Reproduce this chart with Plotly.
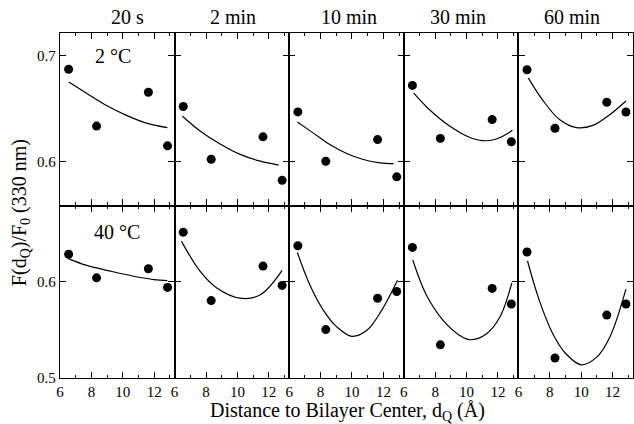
import plotly.graph_objects as go
from plotly.subplots import make_subplots

# Incubation times (columns) and temperatures (rows)
times = ["20 s", "2 min", "10 min", "30 min", "60 min"]
temps = ["2 °C", "40 °C"]

# Quencher depth, distance to bilayer center (Å)
d_q = [6.55, 8.33, 11.63, 12.85]

# Relative fluorescence F(dQ)/F0 at 330 nm, one list per time
f_2C = [
    [0.687, 0.6336, 0.6654, 0.615],
    [0.652, 0.6024, 0.6235, 0.5826],
    [0.6469, 0.6006, 0.6209, 0.5859],
    [0.6718, 0.622, 0.6397, 0.6189],
    [0.6865, 0.6315, 0.656, 0.6468],
]
f_40C = [
    [0.6284, 0.6039, 0.6134, 0.594],
    [0.6513, 0.5803, 0.6161, 0.5961],
    [0.6372, 0.5502, 0.5828, 0.5898],
    [0.6355, 0.5344, 0.593, 0.5768],
    [0.6308, 0.5207, 0.5653, 0.5768],
]

# Fitted depth-dependent quenching profiles (sampled)
fit_x_2C = [
    [6.56, 7.71, 8.99, 10.27, 11.56, 12.84],
    [6.50, 7.62, 8.90, 10.18, 11.46, 12.63],
    [6.52, 7.52, 8.59, 9.66, 10.72, 11.79, 12.65],
    [6.62, 7.64, 8.92, 10.21, 11.28, 12.13, 12.92],
    [6.63, 7.54, 8.62, 9.69, 10.75, 11.82, 12.85],
]
fit_y_2C = [
    [0.6749, 0.6642, 0.6526, 0.6434, 0.6361, 0.6321],
    [0.6428, 0.629, 0.6168, 0.607, 0.6006, 0.5969],
    [0.6375, 0.6272, 0.6162, 0.6078, 0.6022, 0.5991, 0.5984],
    [0.6648, 0.6489, 0.6336, 0.6229, 0.6198, 0.6229, 0.6296],
    [0.6789, 0.6581, 0.6397, 0.6321, 0.6342, 0.6443, 0.6572],
]
fit_x_40C = [
    [6.53, 7.71, 9.21, 10.70, 11.98, 12.84],
    [6.44, 7.62, 8.69, 10.18, 11.46, 12.85],
    [6.52, 7.31, 8.17, 9.03, 9.99, 10.95, 11.90, 12.90],
    [6.57, 7.43, 8.49, 9.56, 10.21, 11.28, 12.13, 12.88],
    [6.58, 7.32, 8.19, 9.04, 10.01, 10.97, 11.82, 12.85],
]
fit_y_40C = [
    [0.6239, 0.6168, 0.6109, 0.6056, 0.6021, 0.601],
    [0.6418, 0.6109, 0.5934, 0.5828, 0.5863, 0.6116],
    [0.6302, 0.5968, 0.5705, 0.553, 0.5432, 0.5495, 0.5705, 0.6014],
    [0.6224, 0.5863, 0.56, 0.5442, 0.5397, 0.546, 0.5635, 0.5986],
    [0.6214, 0.5811, 0.546, 0.5249, 0.5137, 0.5214, 0.5424, 0.5923],
]

x_ticks = [6, 8, 10, 12]
y_ticks = [0.5, 0.6, 0.7]

FONT = "Times New Roman, Liberation Serif, serif"
INK = "black"

fig = make_subplots(rows=2, cols=5, horizontal_spacing=0, vertical_spacing=0)

rows_data = [(f_2C, fit_x_2C, fit_y_2C), (f_40C, fit_x_40C, fit_y_40C)]
y_ranges = [[0.559, 0.721], [0.5, 0.679]]

for r, (fvals, fx, fy) in enumerate(rows_data, start=1):
    for c in range(1, 6):
        fig.add_trace(
            go.Scatter(x=fx[c - 1], y=fy[c - 1], mode="lines",
                       line=dict(color=INK, width=1.2, shape="spline"),
                       showlegend=False, hoverinfo="skip"),
            row=r, col=c)
        fig.add_trace(
            go.Scatter(x=d_q, y=fvals[c - 1], mode="markers",
                       marker=dict(color=INK, size=9),
                       showlegend=False),
            row=r, col=c)
        fig.update_xaxes(
            range=[6, 13.3], tickvals=x_ticks,
            ticks="inside", ticklen=6, tickwidth=1, tickcolor=INK,
            minor=dict(dtick=1, tick0=6, ticks="inside", ticklen=3,
                       tickcolor=INK, tickwidth=1),
            showline=True, linecolor=INK, linewidth=1.3, mirror="ticks",
            showgrid=False, zeroline=False,
            showticklabels=(r == 2),
            tickfont=dict(family=FONT, size=15, color=INK),
            row=r, col=c)
        fig.update_yaxes(
            range=y_ranges[r - 1], tickvals=y_ticks, tickformat=".1f",
            ticks="inside", ticklen=6, tickwidth=1, tickcolor=INK,
            showline=True, linecolor=INK, linewidth=1.3, mirror="ticks",
            showgrid=False, zeroline=False,
            showticklabels=(c == 1),
            tickfont=dict(family=FONT, size=15, color=INK),
            row=r, col=c)

# Column headers (incubation time)
title_x = [0.1185, 0.3014, 0.5035, 0.6951, 0.8937]
for label, xp in zip(times, title_x):
    fig.add_annotation(text=label, xref="paper", yref="paper",
                       x=xp, y=1.045, xanchor="center", yanchor="middle",
                       showarrow=False,
                       font=dict(family=FONT, size=20, color=INK))

# Temperature labels inside the first column
fig.add_annotation(text=temps[0], xref="x", yref="y", x=9.4, y=0.699,
                   xanchor="center", yanchor="middle", showarrow=False,
                   font=dict(family=FONT, size=20, color=INK))
fig.add_annotation(text=temps[1], xref="x6", yref="y6", x=9.6, y=0.651,
                   xanchor="center", yanchor="middle", showarrow=False,
                   font=dict(family=FONT, size=20, color=INK))

# Shared axis titles
fig.add_annotation(text="F(d<sub>Q</sub>)/F<sub>0</sub> (330 nm)",
                   xref="paper", yref="paper", x=-0.0697, y=0.478,
                   textangle=-90, xanchor="center", yanchor="middle",
                   showarrow=False, font=dict(family=FONT, size=20, color=INK))
fig.add_annotation(text="Distance to Bilayer Center, d<sub>Q</sub> (Å)",
                   xref="paper", yref="paper", x=0.501, y=-0.056,
                   xanchor="center", yanchor="top", showarrow=False,
                   font=dict(family=FONT, size=20, color=INK))

fig.update_layout(
    width=634, height=424,
    margin=dict(l=60, r=1, t=33, b=46),
    paper_bgcolor="white", plot_bgcolor="white",
    font=dict(family=FONT, color=INK),
)

fig.write_html("out.html")
